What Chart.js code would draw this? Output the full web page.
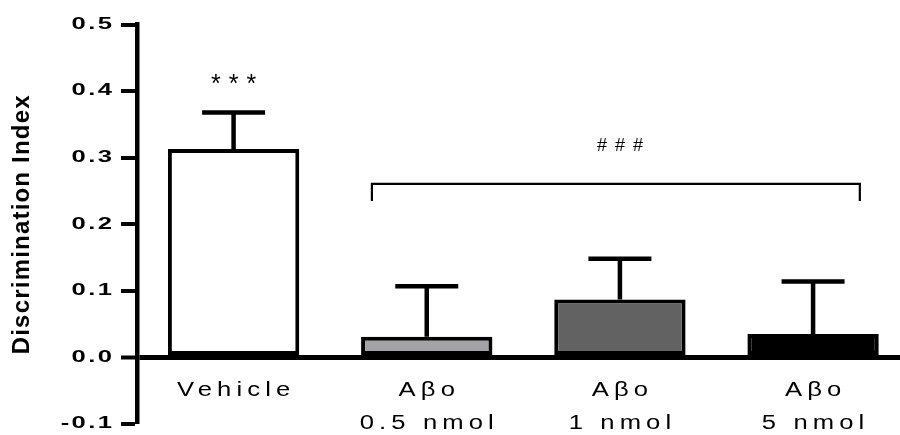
<!DOCTYPE html>
<html>
<head>
<meta charset="utf-8">
<script src="https://cdn.jsdelivr.net/npm/chart.js@4.4.1/dist/chart.umd.min.js"></script>
<style>
html,body{margin:0;padding:0;background:#fff;overflow:hidden}
#wrap{width:900px;height:435px;position:relative}
</style>
</head>
<body>
<div id="wrap"><canvas id="c"></canvas></div>
<script>
// ---- data ----
const groupLabels = [['Vehicle'], ['Aβo', '0.5 nmol'], ['Aβo', '1 nmol'], ['Aβo', '5 nmol']];
const groupPositions = [0, 1, 2, 3];
const means = [0.313, 0.031, 0.087, 0.035];
const sem = [0.055, 0.076, 0.061, 0.079];
const barColors = ['#ffffff', '#a3a3a7', '#626262', '#000000'];
const yTickValues = [-0.1, 0, 0.1, 0.2, 0.3, 0.4, 0.5];
const yTitle = 'Discrimination Index';
const starMark = { text: '***', x: 0, y: 0.4155 };
const hashMark = { text: '###', x: 2, y: 0.317 };
const bracket = { x0: 0.716, x1: 3.242, y: 0.2605, yEnd: 0.235 };

// ---- styles ----
const FONT = "'Liberation Sans', Arial, sans-serif";
const TEXT_STYLE = {
  x: { ls: 4, sx: 1.28, align: 'center' },
  y: { ls: 1.5, sx: 1.6, align: 'right' }
};
const TITLE_LS = 1.2;

function patchLabels(s, st) {
  const orig = s.drawLabels;
  s._computeLabelArea = () => undefined;
  s.drawLabels = function (area) {
    const ctx = this.ctx;
    ctx.save();
    ctx.letterSpacing = st.ls + 'px';
    const dx = st.align === 'center' ? st.ls * st.sx / 2 : st.ls * st.sx;
    ctx.translate(dx, 0);
    ctx.rotate = function (a) {
      CanvasRenderingContext2D.prototype.rotate.call(this, a);
      this.scale(st.sx, 1);
    };
    try { orig.call(this, area); } finally { delete ctx.rotate; ctx.restore(); }
  };
}

const spacingPlugin = {
  id: 'spacing',
  beforeDraw(chart) {
    ['x', 'y'].forEach(id => {
      const s = chart.scales[id];
      if (!s || s._lsPatched) return;
      patchLabels(s, TEXT_STYLE[id]);
      if (id === 'y') {
        const origTitle = s.drawTitle;
        s.drawTitle = function () {
          const ctx = this.ctx;
          ctx.save();
          ctx.letterSpacing = TITLE_LS + 'px';
          origTitle.call(this);
          ctx.restore();
        };
      }
      s._lsPatched = true;
    });
  }
};

const errorBarPlugin = {
  id: 'errbars',
  afterDatasetsDraw(chart) {
    const ctx = chart.ctx;
    const y = chart.scales.y;
    const meta = chart.getDatasetMeta(0);
    ctx.save();
    ctx.strokeStyle = '#000';
    ctx.lineWidth = 4.5;
    ctx.lineCap = 'butt';
    meta.data.forEach((bar, i) => {
      const px = bar.x;
      const yTop = y.getPixelForValue(means[i]);
      const yErr = y.getPixelForValue(means[i] + sem[i]);
      ctx.beginPath();
      ctx.moveTo(px, yTop);
      ctx.lineTo(px, yErr);
      ctx.moveTo(px - 31.5, yErr);
      ctx.lineTo(px + 31.5, yErr);
      ctx.stroke();
    });
    ctx.restore();
  }
};

const annotPlugin = {
  id: 'annot',
  afterDraw(chart) {
    const { ctx } = chart;
    const x = chart.scales.x, y = chart.scales.y;
    ctx.save();
    ctx.fillStyle = '#000';
    ctx.textAlign = 'center';
    ctx.textBaseline = 'middle';
    ctx.font = "25px " + FONT;
    ctx.letterSpacing = '8px';
    ctx.fillText(starMark.text, x.getPixelForValue(starMark.x) + 4, y.getPixelForValue(starMark.y) + 4);
    ctx.font = "18px " + FONT;
    ctx.letterSpacing = '8px';
    ctx.fillText(hashMark.text, x.getPixelForValue(hashMark.x) + 4, y.getPixelForValue(hashMark.y));
    // bracket
    const bx0 = x.getPixelForValue(bracket.x0), bx1 = x.getPixelForValue(bracket.x1);
    const by = y.getPixelForValue(bracket.y), byE = y.getPixelForValue(bracket.yEnd);
    ctx.strokeStyle = '#000';
    ctx.lineWidth = 2.2;
    ctx.beginPath();
    ctx.moveTo(bx0, byE);
    ctx.lineTo(bx0, by);
    ctx.lineTo(bx1, by);
    ctx.lineTo(bx1, byE);
    ctx.stroke();
    ctx.restore();
  }
};

new Chart(document.getElementById('c'), {
  type: 'bar',
  data: {
    datasets: [{
      data: groupPositions.map((p, i) => ({ x: p, y: means[i] })),
      backgroundColor: barColors,
      borderColor: '#000',
      borderWidth: 4,
      borderSkipped: false,
      categoryPercentage: 1.0,
      barPercentage: 0.68
    }]
  },
  options: {
    responsive: true,
    maintainAspectRatio: false,
    animation: false,
    layout: { padding: { top: 24.5, left: 0, right: 0, bottom: 0 } },
    plugins: { legend: { display: false }, tooltip: { enabled: false } },
    scales: {
      x: {
        type: 'linear',
        offset: false,
        min: -0.5,
        max: 3.45,
        grid: { display: false, drawTicks: false, offset: false },
        border: { display: false },
        afterBuildTicks: s => { s.ticks = groupPositions.map(v => ({ value: v })); },
        afterFit: s => { s.height = 11; s.paddingLeft = 0; s.paddingRight = 0; },
        ticks: {
          autoSkip: false,
          maxRotation: 0,
          minRotation: 0,
          padding: -50,
          color: '#000',
          font: { family: FONT, size: 20, lineHeight: 33 / 20 },
          callback: v => groupLabels[groupPositions.indexOf(v)]
        }
      },
      y: {
        min: -0.1,
        max: 0.5,
        afterBuildTicks: s => { s.ticks = yTickValues.map(v => ({ value: v })); },
        afterFit: s => { s.width = 137; s.paddingTop = 0; s.paddingBottom = 0; },
        border: { display: true, color: '#000', width: 4.5, z: 1 },
        grid: {
          z: 1,
          drawTicks: true,
          tickLength: 16,
          tickWidth: 4,
          tickColor: '#000',
          color: c => (c.tick && Math.abs(c.tick.value) < 1e-9) ? '#000' : 'rgba(0,0,0,0)',
          lineWidth: c => (c.tick && Math.abs(c.tick.value) < 1e-9) ? 5 : 0
        },
        ticks: {
          padding: 9,
          color: '#000',
          font: { family: FONT, size: 16, weight: 'bold' },
          callback: v => Number(v).toFixed(1)
        },
        title: {
          display: true,
          text: yTitle,
          color: '#000',
          padding: { top: 8, bottom: 0 },
          font: { family: FONT, size: 24, weight: 'bold' }
        }
      }
    }
  },
  plugins: [spacingPlugin, errorBarPlugin, annotPlugin]
});
</script>
</body>
</html>
